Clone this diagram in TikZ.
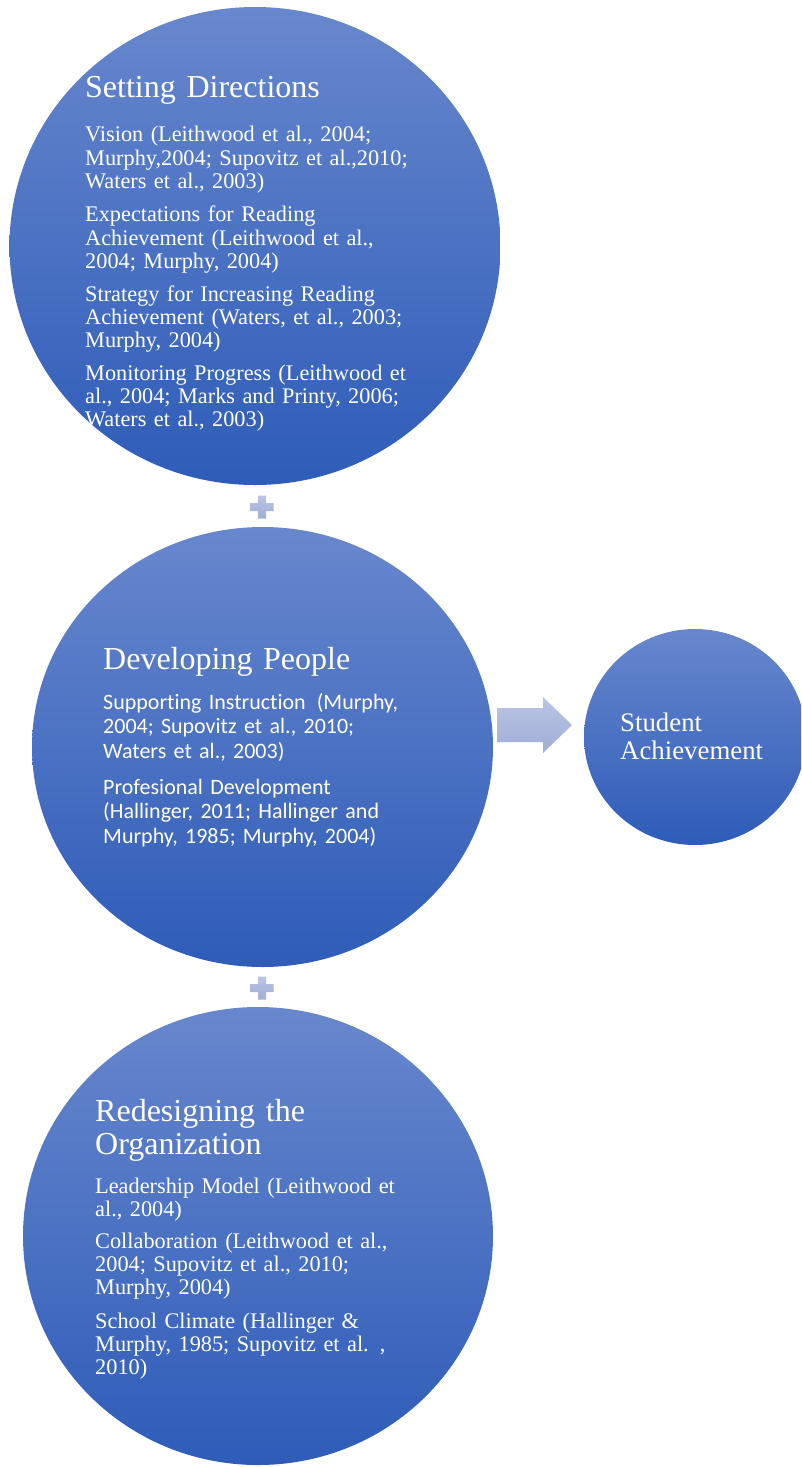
\documentclass[tikz,border=0pt]{standalone}
\usepackage{fontspec}
\setmainfont{Liberation Serif}
\newfontfamily\calibri[Ligatures={NoCommon}]{Carlito}
\usetikzlibrary{shapes.geometric}
\definecolor{ctop}{RGB}{104,135,205}
\definecolor{cmid}{RGB}{66,113,200}
\definecolor{cbot}{RGB}{46,92,184}
\definecolor{ptop}{RGB}{186,197,229}
\definecolor{pbot}{RGB}{160,173,213}
\tikzset{
  bubble/.style={ellipse, inner sep=0, draw=none, top color=ctop, middle color=cmid, bottom color=cbot},
  plusshape/.style={top color=ptop, bottom color=pbot, draw=none},
  ttl/.style={anchor=base west, inner sep=0, text=white, align=left, text width=420pt, font=\fontsize{32}{33}\selectfont},
  body/.style={anchor=base west, inner sep=0, text=white, align=left, text width=420pt, font=\fontsize{22.3}{23.3}\selectfont},
  cbody/.style={anchor=base west, inner sep=0, text=white, align=left, text width=420pt, font=\calibri\fontsize{22}{24.5}\selectfont},
}
\begin{document}
\begin{tikzpicture}[x=1pt,y=-1pt]
\useasboundingbox (0,0) rectangle (801,1467);
\clip (0,0) rectangle (801,1467);
% circles
\node[bubble, minimum width=491pt, minimum height=478pt] (c1) at (255,246) {};
\node[bubble, minimum width=461pt, minimum height=440pt] (c2) at (262.5,747) {};
\node[bubble, minimum width=470pt, minimum height=458pt] (c3) at (258,1236) {};
\node[bubble, minimum width=222pt, minimum height=216pt] (c4) at (695,737) {};
% plus signs
\coordinate (p1) at (262,507);
\coordinate (p2) at (262,988);
\foreach \p in {p1,p2}{
  \path[plusshape] ([shift={(-4,-11.5)}]\p) -- ([shift={(4,-11.5)}]\p) -- ([shift={(4,-4)}]\p) -- ([shift={(11.5,-4)}]\p)
    -- ([shift={(11.5,4)}]\p) -- ([shift={(4,4)}]\p) -- ([shift={(4,11.5)}]\p) -- ([shift={(-4,11.5)}]\p)
    -- ([shift={(-4,4)}]\p) -- ([shift={(-11.5,4)}]\p) -- ([shift={(-11.5,-4)}]\p) -- ([shift={(-4,-4)}]\p) -- cycle;
}
% arrow
\path[plusshape] (497,708) -- (543,708) -- (543,697) -- (572,725) -- (543,753) -- (543,742) -- (497,742) -- cycle;
% texts
\node[ttl] (t1) at (85,97) {Setting Directions};
\node[body] (a1) at (85,141.7) {Vision (Leithwood et al., 2004;\\Murphy,2004; Supovitz et al.,2010;\\Waters et al., 2003)};
\node[body] (a2) at (85,221.7) {Expectations for Reading\\Achievement (Leithwood et al.,\\2004; Murphy, 2004)};
\node[body] (a3) at (85,301) {Strategy for Increasing Reading\\Achievement (Waters, et al., 2003;\\Murphy, 2004)};
\node[body] (a4) at (85,380) {Monitoring Progress (Leithwood et\\al., 2004; Marks and Printy, 2006;\\Waters et al., 2003)};
\node[ttl] (t2) at (103,669) {Developing People};
\node[cbody] (b1) at (103,709) {Supporting Instruction\hspace{11pt}(Murphy,\\2004; Supovitz et al., 2010;\\Waters et al., 2003)};
\node[cbody] (b2) at (103,794) {Profesional Development\\(Hallinger, 2011; Hallinger and\\Murphy, 1985; Murphy, 2004)};
\node[anchor=base west, inner sep=0, text=white, align=left, text width=200pt, font=\fontsize{26.8}{28}\selectfont] (t4) at (620,731) {Student\\Achievement};
\node[ttl] (t3) at (95,1121) {Redesigning the\\Organization};
\node[body] (r1) at (95,1193) {Leadership Model (Leithwood et\\al., 2004)};
\node[body] (r2) at (95,1248) {Collaboration (Leithwood et al.,\\2004; Supovitz et al., 2010;\\Murphy, 2004)};
\node[body] (r3) at (95,1328) {School Climate (Hallinger \&\\Murphy, 1985; Supovitz et al. ,\\2010)};
\end{tikzpicture}
\end{document}
